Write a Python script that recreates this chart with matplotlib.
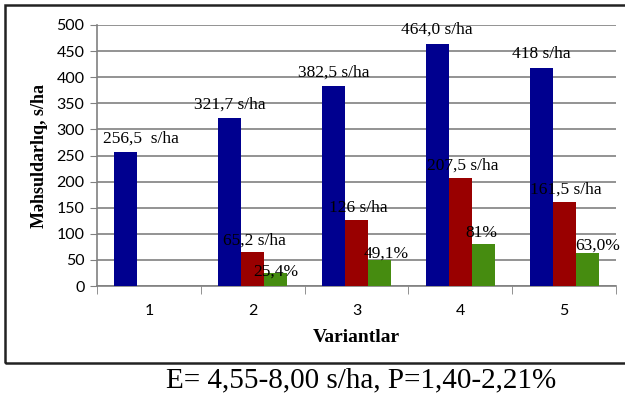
import matplotlib
matplotlib.use("Agg")
import matplotlib.pyplot as plt
import numpy as np
from matplotlib.patches import Rectangle

variants = ["1", "2", "3", "4", "5"]
yield_total = [256.5, 321.7, 382.5, 464.0, 418.0]
yield_gain = [0, 65.2, 126, 207.5, 161.5]
gain_pct = [0, 25.4, 49.1, 81, 63.0]

total_labels = ["256,5  s/ha", "321,7 s/ha", "382,5 s/ha", "464,0 s/ha", "418 s/ha"]
gain_labels = [None, "65,2 s/ha", "126 s/ha", "207,5 s/ha", "161,5 s/ha"]
pct_labels = [None, "25,4%", "49,1%", "81%", "63,0%"]

fig = plt.figure(figsize=(6.25, 3.98), dpi=100)
ax = fig.add_axes([97 / 625, 1 - 286 / 398, 519 / 625, 261 / 398])

x = np.arange(len(variants))
w = 0.222
ax.bar(x - w, yield_total, w, color="#00008F", zorder=3)
ax.bar(x, yield_gain, w, color="#990000", zorder=3)
ax.bar(x + w, gain_pct, w, color="#468C10", zorder=3)

ax.set_xlim(-0.5, 4.5)
ax.set_ylim(0, 500)
ax.set_yticks(range(0, 501, 50))
ax.yaxis.grid(True, color="#808080", linewidth=1.2, zorder=0)
ax.set_axisbelow(True)
ax.set_xticks(x)
ax.set_xticklabels(variants, fontsize=11.5, family="Lato")
ax.set_xticks(np.arange(-0.5, 5, 1), minor=True)
ax.tick_params(axis="x", which="major", length=0, pad=13)
ax.tick_params(axis="x", which="minor", length=6, color="#808080")
ax.tick_params(axis="y", length=5, color="#808080", labelsize=11.5, pad=4)
for t in ax.get_yticklabels():
    t.set_family("Lato")
for s in ["top", "right"]:
    ax.spines[s].set_visible(False)
for s in ["left", "bottom"]:
    ax.spines[s].set_color("#808080")
    ax.spines[s].set_linewidth(1.2)

serif = "Liberation Serif"
fs = 12.5
for i in range(5):
    dx = 0.15 if i == 0 else 0
    ax.annotate(total_labels[i], (x[i] - w + dx, yield_total[i]), xytext=(0, 10),
                textcoords="offset points", ha="center", va="center",
                family=serif, fontsize=fs, zorder=4)
    if gain_labels[i]:
        ax.annotate(gain_labels[i], (x[i] + 0.02, yield_gain[i]), xytext=(0, 8.5),
                    textcoords="offset points", ha="center", va="center",
                    family=serif, fontsize=fs, zorder=4)
    if pct_labels[i]:
        off = [0, 1, 5, 7.5, 5.5][i]
        dxp = [0, 0, 0.06, -0.02, 0.1][i]
        ax.annotate(pct_labels[i], (x[i] + w + dxp, gain_pct[i]), xytext=(0, off),
                    textcoords="offset points", ha="center", va="center",
                    family=serif, fontsize=fs, zorder=4)

ax.set_xlabel("Variantlar", family=serif, fontweight="bold", fontsize=14, labelpad=8)
ax.set_ylabel("Məhsuldarlıq, s/ha", family=serif, fontweight="bold", fontsize=13, labelpad=6)

fig.add_artist(Rectangle((5 / 625, 1 - 363 / 398), 1.0, 358 / 398,
                         transform=fig.transFigure, fill=False,
                         edgecolor="#222222", linewidth=1.8, clip_on=False))

fig.text(361 / 625, 1 - 380 / 398, "E= 4,55-8,00 s/ha, P=1,40-2,21%",
         family=serif, fontsize=21, ha="center", va="center")

fig.savefig("out.png", dpi=100)
